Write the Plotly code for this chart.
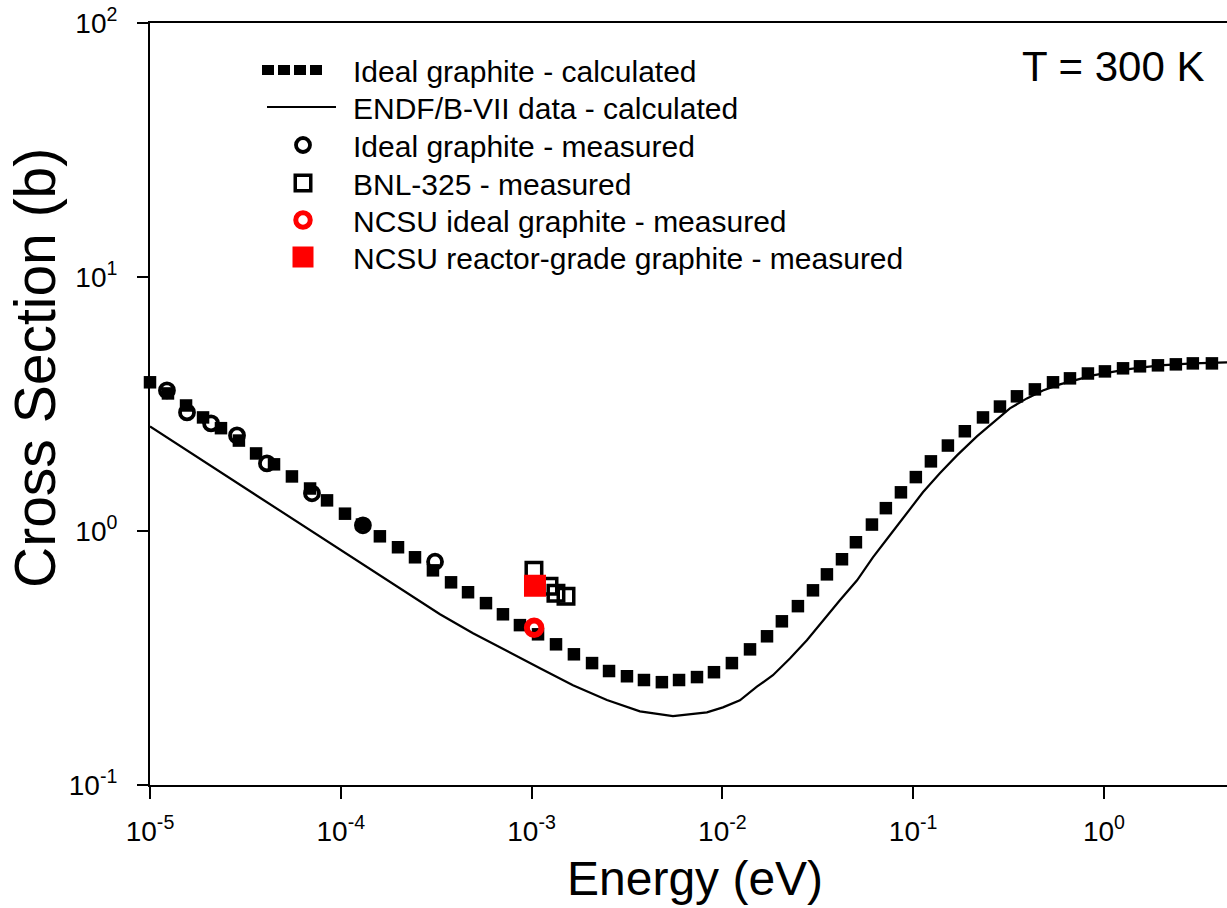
import plotly.graph_objects as go

# ---- data ----
calc_E = [1.000e-5, 1.242e-5, 1.545e-5, 1.897e-5, 2.355e-5, 2.924e-5, 3.597e-5, 4.467e-5, 5.546e-5, 6.902e-5,
          8.470e-5, 1.052e-4, 1.291e-4, 1.603e-4, 1.995e-4, 2.449e-4, 3.041e-4, 3.784e-4, 4.645e-4, 5.768e-4,
          7.079e-4, 8.690e-4, 1.081e-3, 1.343e-3, 1.667e-3, 2.075e-3, 2.547e-3, 3.162e-3, 3.882e-3, 4.819e-3,
          5.929e-3, 7.362e-3, 9.036e-3, 1.122e-2, 1.396e-2, 1.714e-2, 2.051e-2, 2.489e-2, 2.985e-2, 3.532e-2,
          4.236e-2, 5.012e-2, 6.081e-2, 7.194e-2, 8.630e-2, 0.1033, 0.1239, 0.1521, 0.1866, 0.2323,
          0.2851, 0.3499, 0.4345, 0.5408, 0.6637, 0.8241, 1.012, 1.259, 1.545, 1.919,
          2.382, 2.924, 3.681, 4.519]
calc_S = [3.85, 3.48, 3.12, 2.80, 2.54, 2.27, 2.02, 1.83, 1.64, 1.47,
          1.32, 1.17, 1.06, 0.953, 0.863, 0.788, 0.700, 0.628, 0.574, 0.520,
          0.470, 0.426, 0.392, 0.358, 0.327, 0.302, 0.281, 0.268, 0.259, 0.254,
          0.259, 0.266, 0.278, 0.302, 0.342, 0.385, 0.441, 0.506, 0.584, 0.675,
          0.774, 0.903, 1.06, 1.23, 1.42, 1.63, 1.88, 2.17, 2.47, 2.80,
          3.09, 3.39, 3.61, 3.85, 3.99, 4.17, 4.25, 4.37, 4.45, 4.49,
          4.53, 4.57, 4.57, 4.61]

endf_E = [1.0e-5, 3.311e-4, 4.932e-4, 7.430e-4, 1.107e-3, 1.648e-3, 2.483e-3, 3.698e-3, 5.508e-3, 8.299e-3,
          1.007e-2, 1.236e-2, 1.517e-2, 1.841e-2, 2.259e-2, 2.773e-2, 3.365e-2, 4.130e-2, 5.082e-2, 6.152e-2,
          7.551e-2, 9.268e-2, 0.1125, 0.1380, 0.1698, 0.2158, 0.2618, 0.3214, 0.3945, 0.4786,
          0.5875, 0.7211, 0.8750, 1.074, 1.318, 1.600, 1.963, 2.924, 4.416]
endf_S = [2.58, 0.470, 0.396, 0.336, 0.288, 0.247, 0.216, 0.195, 0.1866, 0.1932,
          0.2021, 0.2154, 0.2438, 0.2706, 0.315, 0.3715, 0.4452, 0.5338, 0.6398, 0.788,
          0.962, 1.174, 1.42, 1.687, 1.985, 2.358, 2.677, 3.039, 3.327, 3.577,
          3.777, 3.953, 4.098, 4.21, 4.326, 4.406, 4.486, 4.568, 4.61]

meas_E = [1.227e-5, 1.563e-5, 2.089e-5, 2.858e-5, 4.102e-5, 7.063e-5, 1.306e-4, 3.119e-4]
meas_S = [3.577, 2.931, 2.653, 2.379, 1.846, 1.407, 1.053, 0.757]

bnl_E = [1.029e-3, 1.234e-3, 1.342e-3, 1.515e-3]
bnl_S = [0.700, 0.606, 0.569, 0.553]

ncsu_ideal_E = [1.031e-3]
ncsu_ideal_S = [0.416]

ncsu_reactor_E = [1.042e-3]
ncsu_reactor_S = [0.609]

x_tickvals = [1e-5, 1e-4, 1e-3, 1e-2, 1e-1, 1e0]
x_ticktext = ["10<sup>-5</sup>", "10<sup>-4</sup>", "10<sup>-3</sup>", "10<sup>-2</sup>", "10<sup>-1</sup>", "10<sup>0</sup>"]
y_tickvals = [0.1, 1, 10, 100]
y_ticktext = ["10<sup>-1</sup>", "10<sup>0</sup>", "10<sup>1</sup>", "10<sup>2</sup>"]

names = ["Ideal graphite - calculated", "ENDF/B-VII data - calculated", "Ideal graphite - measured",
         "BNL-325 - measured", "NCSU ideal graphite - measured", "NCSU reactor-grade graphite - measured"]

FONT = "Liberation Sans, Arial, sans-serif"
RED = "#ff0000"

fig = go.Figure()

# calculated ideal graphite: filled squares (legend drawn by a stand-in below)
fig.add_trace(go.Scatter(x=calc_E, y=calc_S, mode="markers", showlegend=False, cliponaxis=False,
                         marker=dict(symbol="square", size=12.5, color="black", line=dict(width=0))))
fig.add_trace(go.Scatter(x=[None], y=[None], mode="lines", name=names[0], legend="legend",
                         line=dict(color="black", width=10, dash="0px,4px,12px,4px,12px,4px,12px,4px,12px,30px")))
# ENDF/B-VII line
fig.add_trace(go.Scatter(x=endf_E, y=endf_S, mode="lines", showlegend=False,
                         line=dict(color="black", width=2.2)))
fig.add_trace(go.Scatter(x=[None], y=[None], mode="lines", name=names[1], legend="legend2",
                         line=dict(color="black", width=2.2, dash="0px,9px,69px,20px")))
# measured ideal graphite
fig.add_trace(go.Scatter(x=meas_E, y=meas_S, mode="markers", name=names[2], legend="legend3",
                         marker=dict(symbol="circle-open", size=14, color="black", line=dict(width=3.8, color="black"))))
# BNL-325
fig.add_trace(go.Scatter(x=bnl_E, y=bnl_S, mode="markers", name=names[3], legend="legend4",
                         marker=dict(symbol="square-open", size=15.5, color="black", line=dict(width=3.5, color="black"))))
# NCSU ideal
fig.add_trace(go.Scatter(x=ncsu_ideal_E, y=ncsu_ideal_S, mode="markers", name=names[4], legend="legend5",
                         marker=dict(symbol="circle-open", size=14.5, color=RED, line=dict(width=6, color=RED))))
# NCSU reactor grade
fig.add_trace(go.Scatter(x=ncsu_reactor_E, y=ncsu_reactor_S, mode="markers", name=names[5], legend="legend6",
                         marker=dict(symbol="square", size=17, color=RED, line=dict(width=5, color=RED))))

# plot area geometry (pixels)
L, R, T, B = 150, 1227, 23, 785
W, H = 1227, 908
PH = B - T
PW = R - L

def py(ypix):
    return (B - ypix) / PH

def px(xpix):
    return (xpix - L) / PW

leg_rows = [70, 107, 145, 183, 220, 257]
leg_x = px(253)
legend_common = dict(xanchor="left", yanchor="middle", bgcolor="rgba(0,0,0,0)", borderwidth=0,
                     font=dict(family=FONT, size=30, color="black"), itemwidth=90,
                     xref="paper", yref="paper")
layout_legends = {}
for i, key in enumerate(["legend", "legend2", "legend3", "legend4", "legend5", "legend6"]):
    layout_legends[key] = dict(x=leg_x, y=py(leg_rows[i]), **legend_common)

fig.update_layout(
    width=W, height=H, autosize=False,
    margin=dict(l=L, r=W - R, t=T, b=H - B, pad=0),
    paper_bgcolor="white", plot_bgcolor="white",
    font=dict(family=FONT, color="black"),
    **layout_legends,
)

fig.update_xaxes(type="log", range=[-5, 0.645], showline=True, linecolor="black", linewidth=2,
                 mirror=True, ticks="outside", ticklen=12, tickwidth=2, tickcolor="black",
                 tickvals=x_tickvals, ticktext=x_ticktext, tickfont=dict(family=FONT, size=28, color="black"),
                 showgrid=False, zeroline=False, ticklabelstandoff=8)
fig.update_yaxes(type="log", range=[-1, 2], showline=True, linecolor="black", linewidth=2,
                 mirror=False, ticks="outside", ticklen=11, tickwidth=2, tickcolor="black",
                 tickvals=y_tickvals, ticktext=y_ticktext, tickfont=dict(family=FONT, size=28, color="black"),
                 showgrid=False, zeroline=False, ticklabelstandoff=14)

fig.add_annotation(text="T = 300 K", xref="paper", yref="paper", x=px(1207), y=py(67),
                   xanchor="right", yanchor="middle", showarrow=False,
                   font=dict(family=FONT, size=42, color="black"))
fig.add_annotation(text="Energy (eV)", xref="paper", yref="paper", x=px(694.5), y=py(878),
                   xanchor="center", yanchor="middle", showarrow=False,
                   font=dict(family=FONT, size=48, color="black"))
fig.add_annotation(text="Cross Section (b)", xref="paper", yref="paper", x=px(35), y=py(368),
                   xanchor="center", yanchor="middle", showarrow=False, textangle=-90,
                   font=dict(family=FONT, size=57, color="black"))

fig.write_html("out.html")
